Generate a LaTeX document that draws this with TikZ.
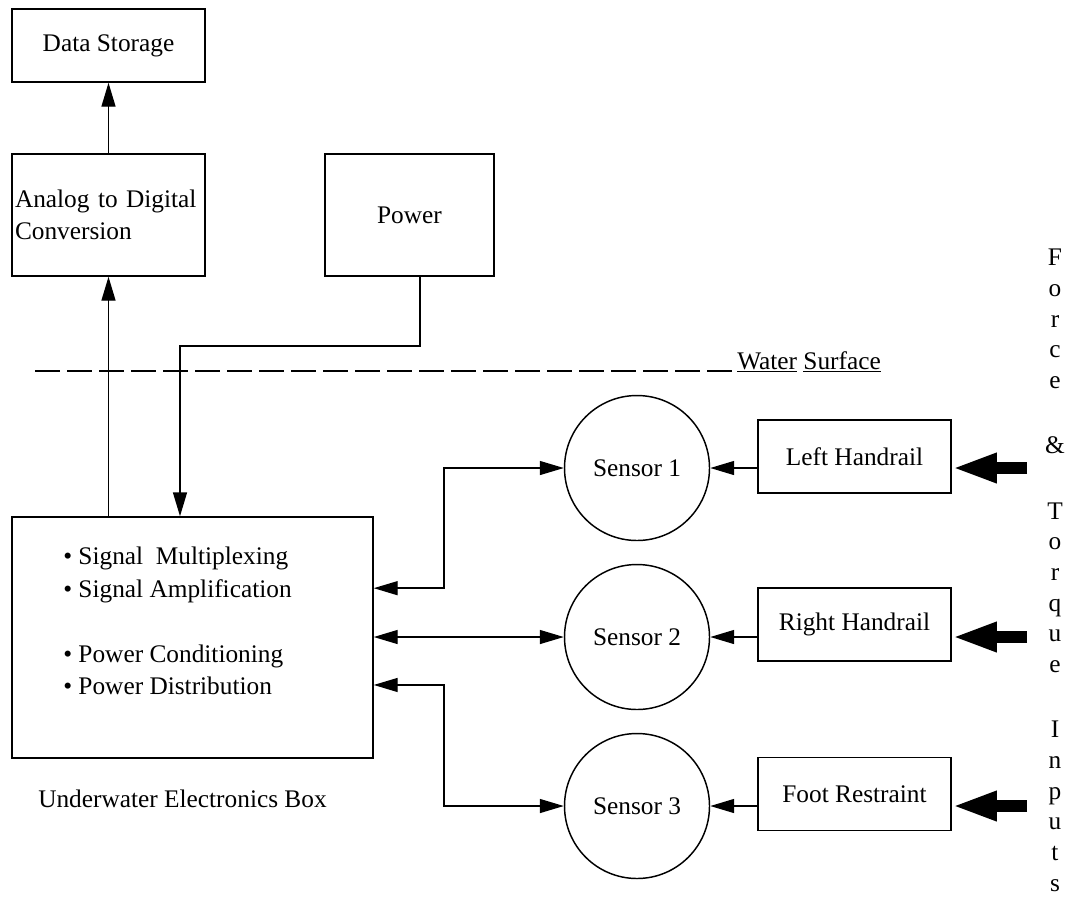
\documentclass[tikz,border=0pt]{standalone}
\usepackage{fontspec}
\setmainfont{Liberation Serif}
\usetikzlibrary{arrows.meta,calc}

\begin{document}
\begin{tikzpicture}[x=0.75pt,y=-0.75pt,
    every node/.style={font=\fontsize{19}{24.4}\selectfont},
    blk/.style={draw,line width=1.1pt,inner sep=0pt},
    sensor/.style={draw,circle,line width=1.1pt,inner sep=0pt,minimum size=145*0.75pt},
    sig/.style={line width=1.1pt,-{Triangle[length=18pt,width=10.5pt]}},
    bisig/.style={line width=1.1pt,{Triangle[length=18pt,width=10.5pt]}-{Triangle[length=18pt,width=10.5pt]}},
    force/.style={line width=9pt,-{Triangle[length=33.75pt,width=20.25pt]}}]
    \useasboundingbox (0,0) rectangle (1073,897);
    %above water
    \node[blk,minimum width=193*0.75pt,minimum height=73*0.75pt] (ds) at (108.5,45.5) {Data Storage};
    \node[blk,align=left,text width=187*0.75pt,inner xsep=3*0.75pt,minimum height=122*0.75pt] (adc) at (108.5,215) {Analog to Digital\\Conversion};
    \node[blk,minimum width=169*0.75pt,minimum height=122*0.75pt] (pwr) at (409.5,215) {Power};
    %water surface
    \draw[line width=1.1pt,dash pattern=on 18.75pt off 5.25pt] (35,371)--(733,371);
    \node[anchor=base west,inner sep=0pt] (ws) at (737,369) {\underline{Water} \underline{Surface}};
    %underwater box
    \node[blk,minimum width=361*0.75pt,minimum height=241*0.75pt] (uw) at (192.5,637.5) {};
    \node[anchor=north west,inner sep=0pt,align=left] (uwlist) at (63,547) {\textbullet\ Signal\ \ Multiplexing\\\textbullet\ Signal Amplification\\[24.4pt]\textbullet\ Power Conditioning\\\textbullet\ Power Distribution};
    \node[anchor=base west,inner sep=0pt] (uwname) at (38,807) {Underwater Electronics Box};
    %sensors and handrails
    \node[sensor] (s1) at (637,468) {Sensor 1};
    \node[sensor] (s2) at (637,637) {Sensor 2};
    \node[sensor] (s3) at (637,806) {Sensor 3};
    \node[blk,minimum width=193*0.75pt,minimum height=73*0.75pt] (lh) at (854.5,456.5) {Left Handrail};
    \node[blk,minimum width=193*0.75pt,minimum height=73*0.75pt] (rh) at (854.5,624.5) {Right Handrail};
    \node[blk,minimum width=193*0.75pt,minimum height=73*0.75pt] (fr) at (854.5,794) {Foot Restraint};
    \node[anchor=north,inner sep=0pt,align=center,font=\fontsize{19}{23}\selectfont] (inputs) at (1055,249)
        {F\\o\\r\\c\\e\\[26pt]\&\\[26pt]T\\o\\r\\q\\u\\e\\[26pt]I\\n\\p\\u\\t\\s};
    %connections
    \draw[sig] (adc.north)--(ds.south);
    \draw[sig] (adc.south |- uw.north)--(adc.south);
    \coordinate (pbend) at (180,346);
    \draw[sig] ([xshift=7.9pt]pwr.south) |- (pbend)--(pbend |- uw.north);
    \draw[bisig] ([yshift=37pt]uw.east) -| ($(s1.west)+(-120,0)$)--(s1.west);
    \draw[bisig] (uw.east |- s2.west)--(s2.west);
    \draw[bisig] ([yshift=-35.6pt]uw.east) -| ($(s3.west)+(-120,0)$)--(s3.west);
    \draw[sig] (lh.west |- s1.east)--(s1.east);
    \draw[sig] (rh.west |- s2.east)--(s2.east);
    \draw[sig] (fr.west |- s3.east)--(s3.east);
    %force inputs
    \coordinate (f1) at (1027,468);
    \coordinate (f2) at (1027,637);
    \coordinate (f3) at (1027,806);
    \draw[force] (f1)--(f1 -| lh.east);
    \draw[force] (f2)--(f2 -| rh.east);
    \draw[force] (f3)--(f3 -| fr.east);
\end{tikzpicture}
\end{document}
